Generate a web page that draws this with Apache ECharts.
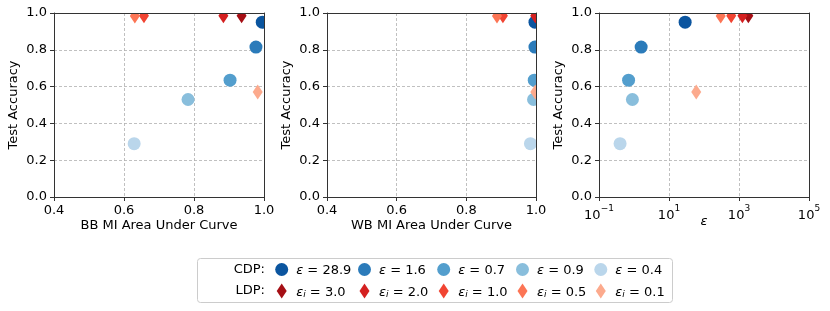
<!DOCTYPE html>
<html><head><meta charset="utf-8">
<script src="https://cdn.jsdelivr.net/npm/echarts@6/dist/echarts.min.js"></script>
<style>html,body{margin:0;padding:0;background:#fff}#c{width:830px;height:311px}</style>
</head><body><div id="c"></div>
<script>
// ---- data ----
var cdpEps = [28.9, 1.6, 0.7, 0.9, 0.4];
var cdpAcc = [0.95, 0.815, 0.635, 0.53, 0.29];
var cdpBB = [0.995, 0.977, 0.903, 0.783, 0.629];
var cdpWB = [0.997, 0.997, 0.995, 0.993, 0.984];
var cdpEpsX = [28.9, 1.6, 0.7, 0.9, 0.4];

var ldpEps = [3.0, 2.0, 1.0, 0.5, 0.1];
var ldpAcc = [0.985, 0.985, 0.985, 0.984, 0.57];
var ldpBB = [0.936, 0.884, 0.657, 0.631, 0.982];
var ldpWB = [0.999, 0.998, 0.905, 0.888, 0.998];
var ldpEpsX = [1850, 1250, 600, 300, 60];

var yTicks = [0, 0.2, 0.4, 0.6, 0.8, 1.0];
var aucTicks = [0.4, 0.6, 0.8, 1.0];
var logTicks = [0.1, 10, 1000, 100000];
var xTitles = ['BB MI Area Under Curve', 'WB MI Area Under Curve', 'ε'];

var cdpColors = ['#0b559f', '#2b7bba', '#539ecd', '#89bedc', '#bad6eb'];
var ldpColors = ['#a50f15', '#d42020', '#f14432', '#fc7555', '#fcaa8d'];

// ---- layout ----
var FONT = 'DejaVu Sans';
var FS = 13;
var grids = [
  {left: 54, top: 13, width: 210, height: 184},
  {left: 327, top: 13, width: 209, height: 184},
  {left: 599, top: 13, width: 210, height: 184}
];
var spine = '#333';
var gridLine = {show: true, lineStyle: {color: '#b0b0b0', type: [3, 2], width: 0.8}};

function cdpName(i) { return 'CDP ' + cdpEps[i].toFixed(1); }
function ldpName(i) { return 'LDP ' + ldpEps[i].toFixed(1); }

var xAxes = [], yAxes = [];
for (var p = 0; p < 3; p++) {
  var isLog = p === 2;
  var base = {
    gridIndex: p,
    type: isLog ? 'log' : 'value',
    min: isLog ? 0.1 : 0.4,
    max: isLog ? 100000 : 1.0
  };
  if (!isLog) base.interval = 0.2;
  var xa = Object.assign({}, base, {
    position: 'bottom',
    name: xTitles[p],
    nameLocation: 'middle',
    nameMoveOverlap: false,
    nameGap: isLog ? 18 : 22,
    nameTextStyle: {fontFamily: FONT, fontSize: FS, color: '#000', fontStyle: isLog ? 'italic' : 'normal'},
    axisLine: {show: true, onZero: false, lineStyle: {color: spine, width: 1}},
    axisTick: {show: true, length: 4, lineStyle: {color: spine}},
    splitLine: gridLine,
    axisLabel: {
      fontFamily: FONT, fontSize: FS, color: '#000', margin: 7,
      showMinLabel: true, showMaxLabel: true,
      formatter: isLog ? function (v) {
        var e = Math.round(Math.log10(v));
        return '{b|10}{s|' + (e < 0 ? '\u2212' + (-e) : e) + '}';
      } : function (v) { return v.toFixed(1); },
      rich: {
        b: {fontFamily: FONT, fontSize: FS, color: '#000', verticalAlign: 'bottom', lineHeight: 18},
        s: {fontFamily: FONT, fontSize: 9, color: '#000', verticalAlign: 'top', lineHeight: 10}
      }
    }
  });
  if (isLog) {
    xa.axisTick.customValues = logTicks;
    xa.axisLabel.customValues = logTicks;
  }
  xAxes.push(xa);
  yAxes.push({
    gridIndex: p, type: 'value', min: 0, max: 1, interval: 0.2,
    position: 'left',
    name: 'Test Accuracy', nameLocation: 'middle', nameGap: 34, nameMoveOverlap: false,
    nameTextStyle: {fontFamily: FONT, fontSize: FS, color: '#000'},
    axisLine: {show: true, onZero: false, lineStyle: {color: spine, width: 1}},
    axisTick: {show: true, length: 4, lineStyle: {color: spine}},
    splitLine: gridLine,
    axisLabel: {fontFamily: FONT, fontSize: FS, color: '#000', margin: 7,
      formatter: function (v) { return v.toFixed(1); }}
  });
}
// top/right spines drawn above the markers
for (var p = 0; p < 3; p++) {
  var isLog = p === 2;
  xAxes.push({gridIndex: p, type: isLog ? 'log' : 'value', min: isLog ? 0.1 : 0.4, max: isLog ? 100000 : 1.0,
    position: 'top', z: 10, axisLine: {show: true, onZero: false, lineStyle: {color: spine, width: 1}},
    axisTick: {show: false}, axisLabel: {show: false}, splitLine: {show: false}});
  yAxes.push({gridIndex: p, type: 'value', min: 0, max: 1, position: 'right', z: 10,
    axisLine: {show: true, onZero: false, lineStyle: {color: spine, width: 1}},
    axisTick: {show: false}, axisLabel: {show: false}, splitLine: {show: false}});
}

function circleItem(params, api) {
  var c = api.coord([api.value(0), api.value(1)]);
  return {type: 'circle', shape: {cx: c[0], cy: c[1], r: 6.5}, style: {fill: api.visual('color')}};
}
function diamondItem(params, api) {
  var c = api.coord([api.value(0), api.value(1)]);
  var hw = 5, hh = 7.5;
  return {type: 'polygon', shape: {points: [[c[0], c[1] - hh], [c[0] + hw, c[1]], [c[0], c[1] + hh], [c[0] - hw, c[1]]]},
    style: {fill: api.visual('color')}};
}

var xsCdp = [cdpBB, cdpWB, cdpEpsX];
var xsLdp = [ldpBB, ldpWB, ldpEpsX];
var series = [];
for (var p = 0; p < 3; p++) {
  for (var i = 0; i < 5; i++) {
    series.push({type: 'custom', name: cdpName(i), xAxisIndex: p, yAxisIndex: p, clip: true,
      renderItem: circleItem, itemStyle: {color: cdpColors[i]}, encode: {x: 0, y: 1},
      data: [[xsCdp[p][i], cdpAcc[i]]], z: 2});
  }
  for (var i = 0; i < 5; i++) {
    series.push({type: 'custom', name: ldpName(i), xAxisIndex: p, yAxisIndex: p, clip: true,
      renderItem: diamondItem, itemStyle: {color: ldpColors[i]}, encode: {x: 0, y: 1},
      data: [[xsLdp[p][i], ldpAcc[i]]], z: 3});
  }
}

// legends: one per entry, laid out in a 5-column, 2-row grid
var colCenters = [281.7, 364.5, 443.7, 522.5, 600.8];
var legendRich = {
  e: {fontFamily: FONT, fontSize: FS, fontStyle: 'italic', color: '#000', lineHeight: 16, verticalAlign: 'bottom'},
  sub: {fontFamily: FONT, fontSize: 9, fontStyle: 'italic', color: '#000', lineHeight: 9, verticalAlign: 'bottom'},
  t: {fontFamily: FONT, fontSize: FS, color: '#000', lineHeight: 16, verticalAlign: 'bottom'}
};
var legends = [];
for (var i = 0; i < 5; i++) {
  legends.push({
    data: [{name: cdpName(i), icon: 'circle'}], orient: 'horizontal', padding: 0,
    left: colCenters[i] - 6.5, top: 263, itemWidth: 13, itemHeight: 13, selectedMode: false,
    formatter: (function (k) { return function () { return '{e|\u03b5}{t| = ' + cdpEps[k].toFixed(1) + '}'; }; })(i),
    textStyle: {fontFamily: FONT, fontSize: FS, color: '#000', padding: [0, 0, 0, 3], rich: legendRich}
  });
  legends.push({
    data: [{name: ldpName(i), icon: 'path://M5,0 L10,7.5 L5,15 L0,7.5 Z'}], orient: 'horizontal', padding: 0,
    left: colCenters[i] - 5, top: 283.5, itemWidth: 10, itemHeight: 15, selectedMode: false,
    formatter: (function (k) { return function () { return '{e|\u03b5}{sub|i}{t| = ' + ldpEps[k].toFixed(1) + '}'; }; })(i),
    textStyle: {fontFamily: FONT, fontSize: FS, color: '#000', padding: [0, 0, 0, 4.5], rich: legendRich}
  });
}

var chart = echarts.init(document.getElementById('c'), null, {renderer: 'canvas'});
chart.setOption({
  animation: false,
  backgroundColor: '#fff',
  grid: grids,
  xAxis: xAxes,
  yAxis: yAxes,
  series: series,
  legend: legends,
  graphic: [
    {type: 'rect', left: 197, top: 258, z: -1, shape: {x: 0, y: 0, width: 475, height: 44, r: 3},
      style: {fill: '#fff', stroke: '#cccccc', lineWidth: 1}},
    {type: 'text', x: 265, y: 270, style: {text: 'CDP:', fontFamily: FONT, fontSize: FS, fill: '#000', align: 'right', verticalAlign: 'middle'}},
    {type: 'text', x: 265, y: 291, style: {text: 'LDP:', fontFamily: FONT, fontSize: FS, fill: '#000', align: 'right', verticalAlign: 'middle'}}
  ]
});
</script>
</body></html>
